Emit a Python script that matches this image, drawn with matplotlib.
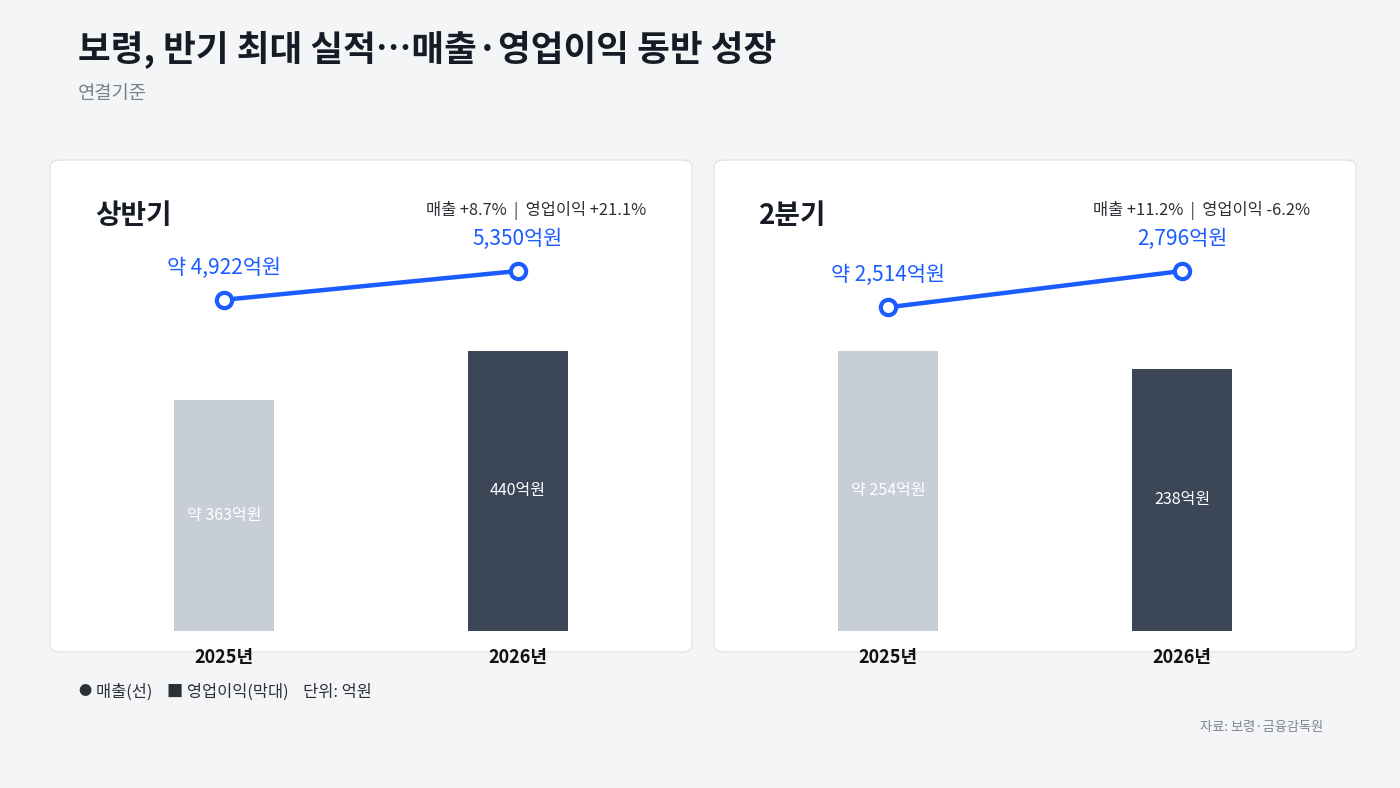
import matplotlib.pyplot as plt
from matplotlib.patches import FancyBboxPatch

plt.rcParams['font.family'] = ['Noto Sans CJK KR', 'DejaVu Sans']

# Data
years = ['2025년', '2026년']
panels = ['상반기', '2분기']
sales = [[4922, 5350], [2514, 2796]]          # 매출 (억원)
op_profit = [[363, 440], [254, 238]]          # 영업이익 (억원)
approx = [True, False]                        # 2025 values are "약"
changes = ['매출 +8.7%  |  영업이익 +21.1%', '매출 +11.2%  |  영업이익 -6.2%']

W, H = 1400, 788
fig = plt.figure(figsize=(W / 100, H / 100), dpi=100)
fig.patch.set_facecolor('#f4f5f7')


def fx(px):
    return px / W


def fy(py):
    return 1 - py / H


BLUE = '#1a5cff'
bar_colors = ['#c8ced8', '#3b4657']

# Header
fig.text(fx(78), fy(50), '보령, 반기 최대 실적…매출·영업이익 동반 성장', fontsize=25.6,
         fontweight='bold', color='#161b26', va='center', ha='left')
fig.text(fx(78), fy(93), '연결기준', fontsize=13.5, color='#7a808a', va='center', ha='left')

for p, name in enumerate(panels):
    x0 = 50 + p * 664
    x1 = x0 + 642
    box = FancyBboxPatch((fx(x0), fy(652)), fx(642), fy(160) - fy(652),
                         boxstyle='round,pad=0,rounding_size=0.008',
                         transform=fig.transFigure, facecolor='white',
                         edgecolor='#e1e4e8', linewidth=1.0, zorder=-1)
    fig.patches.append(box)

    fig.text(fx(x0 + 45), fy(216), name, fontsize=20, fontweight='bold',
             color='#161b26', va='center', ha='left')
    fig.text(fx(x1 - 46), fy(210), changes[p], fontsize=11.8, color='#2b2f36',
             fontweight='medium', va='center', ha='right')

    # plotting area: bars base at y=631, top at y=251
    ax = fig.add_axes([fx(x0), fy(631), fx(642), fy(251) - fy(631)])
    ax.set_facecolor('none')
    ax.set_xlim(-174 / 294, 1 + 174 / 294)
    ax.set_ylim(0, max(op_profit[p]) * 380 / 280)
    xs = [0, 1]
    ax.bar(xs, op_profit[p], width=100 / 294, color=bar_colors, zorder=2)
    for i, v in enumerate(op_profit[p]):
        lab = ('약 ' if approx[i] else '') + f'{v:,}억원'
        ax.text(i, v / 2, lab, ha='center', va='center', fontsize=11.5,
                color='white', zorder=3)
    ax.set_xticks(xs)
    ax.set_xticklabels(years, fontsize=13, fontweight='bold', color='#111111')
    ax.tick_params(axis='x', length=0, pad=12.5)
    ax.set_yticks([])
    for s in ax.spines.values():
        s.set_visible(False)

    ax2 = ax.twinx()
    ax2.set_ylim(0, max(sales[p]) * 380 / 360)
    ax2.plot(xs, sales[p], color=BLUE, linewidth=3.2, marker='o', markersize=11,
             markerfacecolor='white', markeredgecolor=BLUE, markeredgewidth=3,
             solid_capstyle='round', zorder=4)
    for i, v in enumerate(sales[p]):
        lab = ('약 ' if approx[i] else '') + f'{v:,}억원'
        ax2.annotate(lab, (i, v), xytext=(0, 23), textcoords='offset points',
                     ha='center', va='center', fontsize=15, color=BLUE,
                     fontweight='medium')
    ax2.set_yticks([])
    for s in ax2.spines.values():
        s.set_visible(False)

# Legend & source
fig.text(fx(78), fy(692), '●', fontsize=9.5, color='#2b2f36', va='center', ha='left')
fig.text(fx(96), fy(692), '매출(선)    ■ 영업이익(막대)    단위: 억원', fontsize=11.8,
         color='#2b2f36', va='center', ha='left')
fig.text(fx(1323), fy(727), '자료: 보령·금융감독원', fontsize=9.5, color='#80858e',
         va='center', ha='right')

fig.savefig('out.png', dpi=100, facecolor=fig.get_facecolor())
